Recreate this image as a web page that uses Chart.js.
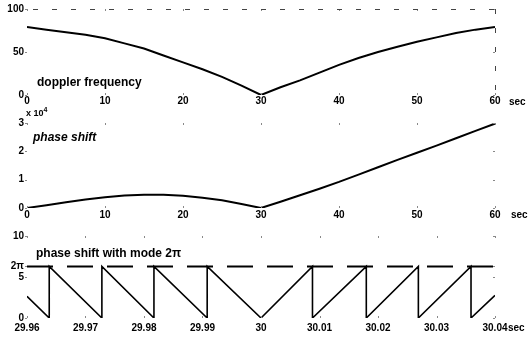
<!DOCTYPE html>
<html><head><meta charset="utf-8">
<script src="https://cdn.jsdelivr.net/npm/chart.js@4/dist/chart.umd.min.js"></script>
<style>
html,body{margin:0;padding:0;background:#fff;}
#wrap{position:relative;width:529px;height:343px;overflow:hidden;background:#fff;font-family:"Liberation Sans",Arial,sans-serif;}
canvas{position:absolute;left:0;}
.t{position:absolute;white-space:nowrap;font-weight:bold;color:#000;line-height:12px;font-size:12px;}
.s{font-size:10px;}
</style></head><body>
<div id="wrap">
<canvas id="c1" width="529" height="112" style="top:0px"></canvas>
<canvas id="c2" width="529" height="113" style="top:112px"></canvas>
<canvas id="c3" width="529" height="118" style="top:225px"></canvas>
<div class="t" style="left:37px;top:76px;">doppler frequency</div>
<div class="t" style="left:33px;top:131px;font-style:italic;">phase shift</div>
<div class="t" style="left:36px;top:247px;">phase shift with mode 2π</div>
<div class="t" style="left:26px;top:108px;font-size:9px;line-height:10px;">x 10<sup style="font-size:7px;vertical-align:4px;line-height:0">4</sup></div>
<div class="t s" style="left:509px;top:96px;">sec</div>
<div class="t s" style="left:511px;top:209px;">sec</div>
<div class="t s" style="left:508px;top:322px;">sec</div>
</div>
<script>
// ---- data ----
const timeSec = [0,2.5,5,7.5,10,12.5,15,17.5,20,22.5,25,27.5,30,32.5,35,37.5,40,42.5,45,47.5,50,52.5,55,57.5,60];
const dopplerFreq = [79,76,73,70,66,60,54,46,38,30,21,11,0,9,17,26,35,43,50,56,62,67,72,76,79];
const phaseShift = [0,0.1,0.2,0.3,0.38,0.44,0.47,0.47,0.43,0.36,0.27,0.14,0,0.22,0.45,0.68,0.92,1.18,1.44,1.7,1.95,2.2,2.46,2.72,2.98]; // x 10^4
const mainTicks = [0,10,20,30,40,50,60];

const modTime = [29.96,29.9638,29.9638,29.9728,29.9728,29.9817,29.9817,29.9908,29.9908,30.0,30.0088,30.0088,30.0180,30.0180,30.0269,30.0269,30.0359,30.0359,30.04];
const modPhase = [2.65,0,6.2832,0,6.2832,0,6.2832,0,6.2832,0,6.2832,0,6.2832,0,6.2832,0,6.2832,0,2.75];
const twoPiTime = [29.96,30.04];
const twoPiLevel = [6.2832,6.2832];
const modTicks = [29.96,29.97,29.98,29.99,30,30.01,30.02,30.03,30.04];
const modTickLabels = ['29.96','29.97','29.98','29.99','30','30.01','30.02','30.03','30.04'];
const modYTicks = [0,5,6.2832,10];
const modYTickLabels = ['0','5','2π','10'];

// ---- helpers ----
const FONT = {family:'"Liberation Sans", Arial, sans-serif', size:10, weight:'bold'};
const pts = (xs, ys) => xs.map((x,i)=>({x, y:ys[i]}));

const decor = {
  id:'decor',
  afterDraw(chart, args, opts){
    const {ctx, chartArea:a, scales} = chart;
    ctx.save();
    ctx.strokeStyle = '#888'; ctx.lineWidth = 1;
    // small inward tick marks
    scales.x.ticks.forEach(t=>{
      const px = Math.round(scales.x.getPixelForValue(t.value))+0.5;
      ctx.beginPath(); ctx.moveTo(px,a.top); ctx.lineTo(px,a.top+2);
      ctx.moveTo(px,a.bottom); ctx.lineTo(px,a.bottom-2); ctx.stroke();
    });
    scales.y.ticks.forEach(t=>{
      const py = Math.round(scales.y.getPixelForValue(t.value))+0.5;
      ctx.beginPath(); ctx.moveTo(a.left-2,py); ctx.lineTo(a.left,py);
      ctx.moveTo(a.right,py); ctx.lineTo(a.right-2,py); ctx.stroke();
    });
    if (opts.frame){
      ctx.strokeStyle = '#444'; ctx.setLineDash([5,14]);
      ctx.beginPath(); ctx.moveTo(a.left+6, a.top+0.5); ctx.lineTo(a.right, a.top+0.5);
      ctx.moveTo(a.right+0.5, a.top); ctx.lineTo(a.right+0.5, a.bottom); ctx.stroke();
    }
    ctx.restore();
  }
};

function mk(id, datasets, xcfg, ycfg, padTop, xH, xPad, frame){
  return new Chart(document.getElementById(id), {
    type:'line',
    data:{datasets},
    options:{
      responsive:false, animation:false, devicePixelRatio:1,
      layout:{padding:{top:padTop, right:34, left:0, bottom:0}},
      plugins:{legend:{display:false}, tooltip:{enabled:false}, decor:{frame}},
      scales:{
        x:Object.assign({type:'linear', grid:{display:false, drawTicks:false}, border:{display:false},
          afterFit(s){ s.height = xH; },
        }, xcfg, {ticks:Object.assign({font:FONT, color:'#000', padding:xPad, maxRotation:0, autoSkip:false}, xcfg.ticks||{})}),
        y:Object.assign({grid:{display:false, drawTicks:false}, border:{display:false},
          afterFit(s){ s.width = 27; },
        }, ycfg, {ticks:Object.assign({font:FONT, color:'#000', padding:3}, ycfg.ticks||{})})
      }
    },
    plugins:[decor]
  });
}
const lineDs = (xs, ys, extra) => Object.assign({data:pts(xs,ys), borderColor:'#000', borderWidth:2, pointRadius:0, tension:0, fill:false}, extra||{});

const mainX = {min:0, max:60, afterBuildTicks(s){ s.ticks = mainTicks.map(v=>({value:v})); }};

mk('c1', [lineDs(timeSec, dopplerFreq)], mainX,
   {min:0, max:100, ticks:{stepSize:50}}, 9, 17, 0, true);
mk('c2', [lineDs(timeSec, phaseShift)], mainX,
   {min:0, max:3, ticks:{stepSize:1}}, 11, 17, 1, false);
mk('c3', [
    lineDs(twoPiTime, twoPiLevel, {borderDash:[26,14], borderWidth:2}),
    lineDs(modTime, modPhase, {borderWidth:1.6})
  ],
  {min:29.96, max:30.04, afterBuildTicks(s){ s.ticks = modTicks.map(v=>({value:v})); },
   ticks:{callback:(v,i)=>modTickLabels[i]}},
  {min:0, max:10, afterBuildTicks(s){ s.ticks = modYTicks.map(v=>({value:v})); },
   ticks:{callback:(v,i)=>modYTickLabels[i]}}, 11, 25, 4, false);
</script>
</body></html>
